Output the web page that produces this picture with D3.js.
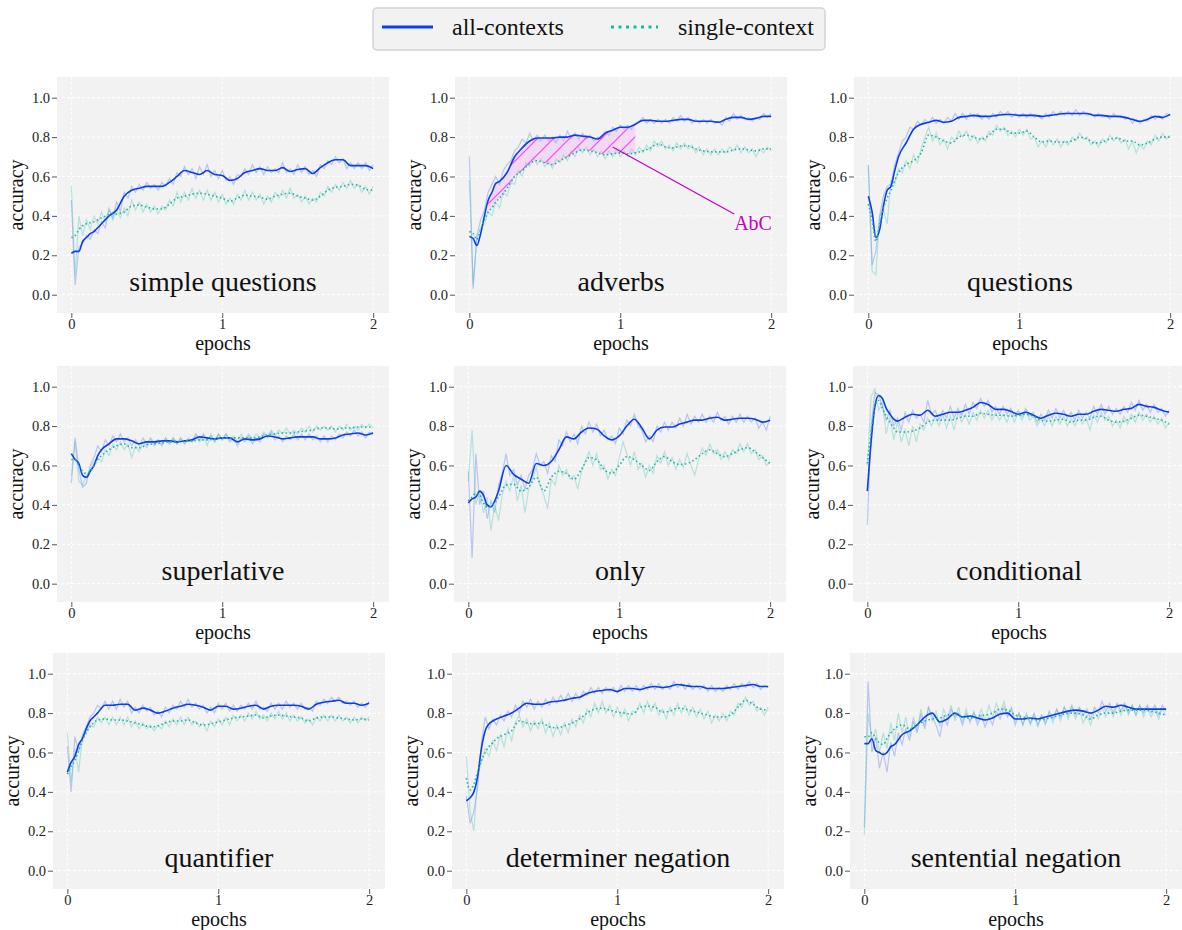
<!DOCTYPE html>
<html><head><meta charset="utf-8">
<script src="https://cdn.jsdelivr.net/npm/d3@7"></script>
<style>
body{margin:0;background:#fff}
svg{display:block}
text{font-family:"Liberation Serif","Times New Roman",serif}
</style>
</head><body><svg id="chart" width="1182" height="930"></svg>
<script>
// ---------- shared x grids (epochs) ----------
const epochsSmooth = [0,0.025,0.05,0.075,0.1,0.125,0.15,0.175,0.2,
 0.25,0.3,0.35,0.4,0.45,0.5,0.55,0.6,0.65,0.7,
 0.75,0.8,0.85,0.9,0.95,1.0,1.05,1.1,1.15,1.2,
 1.25,1.3,1.35,1.4,1.45,1.5,1.55,1.6,1.65,1.7,
 1.75,1.8,1.85,1.9,1.95,2.0];
const epochsRaw = [0,0.025,0.05,0.075,0.1,0.125,0.15,0.175,0.2,0.225,
 0.25,0.275,0.3,0.325,0.35,0.375,0.4,0.425,0.45,0.475,
 0.5,0.525,0.55,0.575,0.6,0.625,0.65,0.675,0.7,0.725,
 0.75,0.775,0.8,0.825,0.85,0.875,0.9,0.925,0.95,0.975,
 1.0,1.025,1.05,1.075,1.1,1.125,1.15,1.175,1.2,1.225,
 1.25,1.275,1.3,1.325,1.35,1.375,1.4,1.425,1.45,1.475,
 1.5,1.525,1.55,1.575,1.6,1.625,1.65,1.675,1.7,1.725,
 1.75,1.775,1.8,1.825,1.85,1.875,1.9,1.925,1.95,1.975,
 2.0];

const taskNames = ["simple questions","adverbs","questions","superlative","only","conditional","quantifier","determiner negation","sentential negation"];
const legendLabels = ["all-contexts","single-context"];
const xTicks = [0,1,2];
const yTicks = [0,0.2,0.4,0.6,0.8,1.0];
const xLabel = "epochs";
const yLabel = "accuracy";

// ---------- simple questions ----------
const sqAll = [0.21,0.22,0.22,0.27,0.29,0.31,0.32,0.34,0.36,
 0.40,0.43,0.50,0.53,0.54,0.55,0.55,0.55,0.57,0.60,
 0.63,0.62,0.61,0.63,0.61,0.605,0.58,0.59,0.62,0.63,
 0.64,0.63,0.63,0.645,0.625,0.635,0.64,0.615,0.645,0.67,
 0.685,0.685,0.655,0.655,0.655,0.64];
const sqSingle = [0.29,0.30,0.33,0.35,0.36,0.365,0.37,0.38,0.39,
 0.405,0.41,0.42,0.45,0.455,0.445,0.435,0.435,0.46,0.49,
 0.50,0.51,0.515,0.51,0.50,0.49,0.475,0.49,0.505,0.50,
 0.495,0.485,0.50,0.51,0.515,0.50,0.49,0.48,0.50,0.53,
 0.545,0.55,0.56,0.555,0.535,0.53];
const sqAllRaw = [0.48,0.05,0.24,0.26,0.30,0.28,0.33,0.31,0.37,0.34,
 0.43,0.39,0.47,0.42,0.52,0.49,0.55,0.52,0.56,0.53,
 0.57,0.54,0.56,0.53,0.57,0.55,0.59,0.56,0.62,0.60,
 0.65,0.61,0.64,0.59,0.65,0.61,0.66,0.60,0.63,0.59,
 0.63,0.58,0.60,0.56,0.61,0.60,0.64,0.61,0.66,0.62,
 0.65,0.61,0.65,0.62,0.64,0.62,0.67,0.62,0.64,0.61,
 0.66,0.62,0.65,0.61,0.63,0.60,0.66,0.64,0.68,0.66,
 0.70,0.67,0.69,0.64,0.67,0.64,0.67,0.64,0.67,0.63,
 0.66];
const sqSingleRaw = [0.55,0.10,0.40,0.30,0.38,0.33,0.40,0.36,0.42,0.37,
 0.44,0.38,0.43,0.39,0.44,0.40,0.48,0.43,0.47,0.42,
 0.46,0.42,0.45,0.41,0.45,0.43,0.48,0.45,0.52,0.47,
 0.52,0.48,0.54,0.49,0.53,0.48,0.53,0.48,0.52,0.47,
 0.51,0.46,0.49,0.46,0.51,0.48,0.53,0.48,0.52,0.48,
 0.51,0.46,0.50,0.47,0.52,0.49,0.53,0.49,0.54,0.49,
 0.51,0.47,0.50,0.46,0.49,0.47,0.52,0.50,0.55,0.52,
 0.56,0.53,0.57,0.54,0.58,0.54,0.56,0.52,0.55,0.51,
 0.55];

// ---------- adverbs ----------
const advAll = [0.295,0.285,0.25,0.31,0.40,0.48,0.52,0.565,0.575,
 0.62,0.70,0.745,0.78,0.795,0.795,0.795,0.80,0.80,0.81,
 0.805,0.80,0.79,0.82,0.835,0.85,0.85,0.865,0.885,0.885,
 0.88,0.88,0.885,0.89,0.89,0.88,0.88,0.88,0.875,0.89,
 0.90,0.90,0.89,0.895,0.905,0.905];
const advSingle = [0.32,0.31,0.28,0.33,0.38,0.42,0.44,0.47,0.49,
 0.54,0.60,0.63,0.665,0.68,0.67,0.66,0.68,0.70,0.72,
 0.735,0.73,0.72,0.71,0.715,0.72,0.715,0.72,0.73,0.745,
 0.765,0.75,0.745,0.755,0.755,0.74,0.73,0.725,0.725,0.725,
 0.735,0.74,0.735,0.73,0.74,0.74];
const advAllRaw = [0.70,0.03,0.30,0.38,0.43,0.52,0.56,0.60,0.56,0.63,
 0.66,0.68,0.73,0.75,0.79,0.77,0.82,0.78,0.81,0.78,
 0.81,0.78,0.80,0.77,0.81,0.78,0.83,0.79,0.82,0.79,
 0.82,0.79,0.81,0.78,0.80,0.79,0.83,0.81,0.85,0.83,
 0.86,0.84,0.86,0.84,0.87,0.88,0.90,0.87,0.89,0.87,
 0.89,0.87,0.89,0.87,0.90,0.88,0.91,0.88,0.90,0.87,
 0.89,0.87,0.89,0.87,0.89,0.87,0.88,0.86,0.90,0.88,
 0.92,0.89,0.91,0.89,0.90,0.88,0.90,0.89,0.92,0.90,
 0.92];
const advSingleRaw = [0.58,0.05,0.29,0.34,0.36,0.42,0.40,0.47,0.44,0.52,
 0.50,0.57,0.56,0.63,0.60,0.67,0.65,0.70,0.66,0.69,
 0.65,0.68,0.64,0.69,0.67,0.71,0.68,0.73,0.70,0.75,
 0.72,0.75,0.71,0.74,0.70,0.73,0.69,0.73,0.70,0.74,
 0.70,0.73,0.70,0.74,0.71,0.75,0.72,0.76,0.73,0.78,
 0.75,0.78,0.74,0.76,0.73,0.77,0.74,0.77,0.74,0.76,
 0.72,0.75,0.71,0.74,0.71,0.74,0.71,0.74,0.72,0.75,
 0.73,0.76,0.72,0.75,0.72,0.74,0.70,0.74,0.72,0.75,
 0.73];

// ---------- questions ----------
const qAll = [0.50,0.42,0.29,0.33,0.45,0.53,0.55,0.63,0.70,
 0.77,0.84,0.865,0.875,0.885,0.875,0.88,0.90,0.905,0.91,
 0.905,0.905,0.91,0.915,0.915,0.91,0.91,0.91,0.905,0.91,
 0.915,0.92,0.92,0.92,0.92,0.91,0.91,0.905,0.905,0.90,
 0.89,0.88,0.89,0.905,0.90,0.915];
const qSingle = [0.46,0.38,0.27,0.36,0.44,0.49,0.53,0.58,0.62,
 0.66,0.68,0.72,0.81,0.80,0.78,0.77,0.80,0.81,0.80,
 0.79,0.81,0.84,0.84,0.82,0.82,0.83,0.80,0.775,0.78,
 0.775,0.775,0.78,0.80,0.79,0.77,0.775,0.79,0.795,0.78,
 0.78,0.76,0.77,0.79,0.80,0.80];
const qAllRaw = [0.66,0.15,0.22,0.40,0.50,0.55,0.56,0.66,0.72,0.78,
 0.80,0.85,0.84,0.88,0.86,0.89,0.87,0.90,0.87,0.89,
 0.87,0.90,0.88,0.92,0.89,0.92,0.89,0.92,0.90,0.92,
 0.89,0.91,0.89,0.92,0.90,0.93,0.91,0.93,0.90,0.92,
 0.90,0.92,0.90,0.92,0.90,0.91,0.89,0.92,0.90,0.93,
 0.91,0.93,0.91,0.93,0.91,0.94,0.91,0.93,0.91,0.92,
 0.90,0.92,0.90,0.91,0.89,0.92,0.90,0.91,0.89,0.90,
 0.87,0.89,0.87,0.89,0.88,0.91,0.89,0.91,0.89,0.92,
 0.91];
const qSingleRaw = [0.65,0.12,0.10,0.40,0.43,0.36,0.58,0.56,0.64,0.62,
 0.68,0.64,0.71,0.67,0.74,0.80,0.85,0.78,0.82,0.76,
 0.79,0.74,0.80,0.78,0.83,0.80,0.83,0.78,0.81,0.77,
 0.80,0.78,0.83,0.81,0.86,0.83,0.85,0.81,0.83,0.80,
 0.84,0.81,0.84,0.79,0.80,0.75,0.78,0.75,0.79,0.76,
 0.79,0.75,0.78,0.76,0.80,0.78,0.82,0.79,0.80,0.76,
 0.78,0.75,0.79,0.77,0.81,0.78,0.80,0.77,0.79,0.74,
 0.78,0.72,0.76,0.74,0.78,0.76,0.81,0.78,0.82,0.79,
 0.81];

// ---------- superlative ----------
const supAll = [0.66,0.63,0.61,0.55,0.54,0.57,0.60,0.65,0.68,
 0.71,0.735,0.735,0.725,0.71,0.72,0.72,0.725,0.725,0.72,
 0.725,0.73,0.745,0.74,0.735,0.74,0.74,0.72,0.735,0.73,
 0.735,0.75,0.745,0.735,0.74,0.745,0.745,0.745,0.735,0.735,
 0.74,0.755,0.76,0.765,0.755,0.765];
const supSingle = [0.63,0.63,0.60,0.57,0.56,0.57,0.60,0.63,0.65,
 0.68,0.70,0.71,0.69,0.69,0.705,0.71,0.715,0.72,0.72,
 0.725,0.725,0.73,0.73,0.735,0.74,0.74,0.74,0.74,0.74,
 0.745,0.755,0.76,0.765,0.765,0.77,0.775,0.78,0.79,0.79,
 0.785,0.79,0.79,0.795,0.795,0.795];
const supAllRaw = [0.51,0.74,0.58,0.49,0.51,0.60,0.64,0.70,0.67,0.73,
 0.70,0.75,0.72,0.76,0.72,0.74,0.70,0.73,0.70,0.74,
 0.71,0.74,0.71,0.73,0.70,0.74,0.71,0.74,0.71,0.74,
 0.71,0.73,0.72,0.76,0.73,0.76,0.73,0.75,0.72,0.76,
 0.73,0.76,0.72,0.74,0.70,0.74,0.72,0.75,0.71,0.74,
 0.72,0.76,0.74,0.77,0.73,0.75,0.72,0.75,0.73,0.76,
 0.73,0.76,0.73,0.76,0.73,0.75,0.72,0.75,0.72,0.75,
 0.73,0.76,0.74,0.77,0.75,0.78,0.75,0.77,0.74,0.77,
 0.76];
const supSingleRaw = [0.55,0.72,0.52,0.50,0.55,0.58,0.62,0.64,0.62,0.68,
 0.65,0.71,0.68,0.72,0.68,0.71,0.64,0.70,0.67,0.72,
 0.69,0.73,0.70,0.73,0.71,0.74,0.71,0.74,0.71,0.74,
 0.71,0.74,0.72,0.75,0.72,0.75,0.70,0.76,0.72,0.76,
 0.73,0.76,0.73,0.75,0.72,0.76,0.73,0.76,0.73,0.76,
 0.74,0.77,0.75,0.78,0.75,0.78,0.76,0.79,0.76,0.78,
 0.76,0.79,0.77,0.80,0.77,0.80,0.78,0.80,0.78,0.80,
 0.77,0.80,0.78,0.81,0.78,0.80,0.78,0.81,0.79,0.81,
 0.79];

// ---------- only ----------
const onlyAll = [0.41,0.43,0.44,0.47,0.45,0.40,0.39,0.42,0.47,
 0.60,0.555,0.53,0.51,0.61,0.60,0.62,0.68,0.745,0.735,
 0.77,0.79,0.785,0.75,0.73,0.75,0.80,0.835,0.79,0.735,
 0.78,0.795,0.795,0.81,0.82,0.83,0.83,0.84,0.845,0.83,
 0.835,0.84,0.84,0.835,0.82,0.83];
const onlySingle = [0.42,0.44,0.46,0.45,0.41,0.39,0.39,0.41,0.44,
 0.50,0.505,0.47,0.49,0.54,0.47,0.54,0.57,0.56,0.53,
 0.58,0.64,0.63,0.58,0.56,0.60,0.645,0.63,0.60,0.575,
 0.62,0.645,0.62,0.605,0.61,0.63,0.66,0.68,0.66,0.645,
 0.66,0.68,0.69,0.67,0.64,0.61];
const onlyAllRaw = [0.57,0.13,0.66,0.40,0.47,0.33,0.42,0.36,0.50,0.56,
 0.66,0.55,0.58,0.50,0.55,0.48,0.55,0.58,0.66,0.60,
 0.62,0.56,0.65,0.62,0.73,0.70,0.77,0.72,0.76,0.71,
 0.80,0.76,0.82,0.77,0.81,0.75,0.78,0.73,0.75,0.71,
 0.79,0.76,0.83,0.80,0.86,0.80,0.78,0.72,0.75,0.72,
 0.80,0.77,0.82,0.78,0.82,0.79,0.84,0.80,0.86,0.81,
 0.85,0.82,0.86,0.82,0.85,0.82,0.87,0.83,0.85,0.81,
 0.85,0.82,0.86,0.82,0.85,0.82,0.84,0.79,0.82,0.78,
 0.85];
const onlySingleRaw = [0.52,0.78,0.40,0.47,0.36,0.44,0.27,0.40,0.32,0.45,
 0.52,0.47,0.55,0.42,0.50,0.36,0.48,0.53,0.59,0.50,
 0.45,0.38,0.53,0.50,0.60,0.55,0.58,0.53,0.55,0.48,
 0.57,0.62,0.67,0.60,0.66,0.58,0.60,0.53,0.58,0.55,
 0.64,0.72,0.66,0.60,0.67,0.58,0.61,0.54,0.60,0.56,
 0.65,0.61,0.67,0.60,0.64,0.58,0.63,0.59,0.66,0.60,
 0.55,0.63,0.69,0.65,0.71,0.66,0.68,0.63,0.67,0.63,
 0.68,0.66,0.71,0.67,0.71,0.66,0.68,0.63,0.65,0.60,
 0.62];

// ---------- conditional ----------
const condAll = [0.47,0.72,0.90,0.955,0.94,0.89,0.86,0.835,0.825,
 0.845,0.86,0.855,0.88,0.85,0.86,0.87,0.87,0.88,0.895,
 0.92,0.91,0.885,0.885,0.875,0.86,0.87,0.855,0.84,0.855,
 0.865,0.86,0.85,0.86,0.86,0.875,0.885,0.88,0.875,0.885,
 0.89,0.91,0.90,0.895,0.88,0.87];
const condSingle = [0.61,0.77,0.90,0.93,0.89,0.85,0.82,0.79,0.77,
 0.77,0.775,0.79,0.82,0.83,0.83,0.83,0.84,0.85,0.85,
 0.865,0.86,0.855,0.855,0.85,0.855,0.86,0.85,0.83,0.825,
 0.83,0.835,0.82,0.83,0.83,0.845,0.85,0.83,0.82,0.825,
 0.84,0.855,0.85,0.84,0.83,0.81];
const condAllRaw = [0.30,0.80,0.97,0.96,0.90,0.83,0.88,0.80,0.84,0.78,
 0.87,0.82,0.88,0.84,0.86,0.82,0.93,0.86,0.88,0.83,
 0.88,0.84,0.90,0.84,0.89,0.85,0.91,0.86,0.92,0.89,
 0.94,0.90,0.93,0.87,0.90,0.86,0.90,0.86,0.89,0.85,
 0.88,0.85,0.89,0.85,0.87,0.82,0.86,0.83,0.88,0.84,
 0.89,0.84,0.88,0.84,0.87,0.83,0.88,0.84,0.87,0.84,
 0.90,0.86,0.91,0.86,0.90,0.86,0.89,0.86,0.90,0.87,
 0.92,0.88,0.93,0.88,0.91,0.87,0.91,0.87,0.89,0.85,
 0.88];
const condSingleRaw = [0.60,0.95,0.99,0.88,0.92,0.76,0.85,0.73,0.82,0.72,
 0.78,0.70,0.80,0.72,0.81,0.78,0.84,0.80,0.85,0.80,
 0.86,0.79,0.85,0.78,0.87,0.82,0.86,0.81,0.87,0.83,
 0.88,0.84,0.88,0.83,0.87,0.83,0.86,0.82,0.87,0.82,
 0.87,0.83,0.88,0.83,0.85,0.80,0.84,0.80,0.85,0.80,
 0.85,0.81,0.85,0.80,0.84,0.80,0.85,0.81,0.84,0.78,
 0.86,0.82,0.87,0.83,0.85,0.80,0.83,0.79,0.85,0.81,
 0.86,0.82,0.87,0.83,0.86,0.82,0.85,0.81,0.84,0.79,
 0.82];

// ---------- quantifier ----------
const quantAll = [0.50,0.55,0.58,0.64,0.67,0.72,0.76,0.78,0.80,
 0.84,0.84,0.845,0.845,0.815,0.825,0.815,0.80,0.81,0.825,
 0.835,0.845,0.84,0.83,0.815,0.835,0.835,0.82,0.825,0.835,
 0.84,0.82,0.835,0.84,0.84,0.84,0.835,0.82,0.845,0.855,
 0.86,0.865,0.85,0.85,0.84,0.85];
const quantSingle = [0.49,0.53,0.56,0.61,0.66,0.70,0.73,0.75,0.765,
 0.77,0.765,0.765,0.76,0.75,0.74,0.73,0.735,0.75,0.76,
 0.76,0.765,0.75,0.74,0.745,0.755,0.765,0.775,0.78,0.785,
 0.79,0.775,0.785,0.79,0.785,0.78,0.775,0.76,0.775,0.78,
 0.78,0.775,0.77,0.765,0.77,0.765];
const quantAllRaw = [0.63,0.40,0.68,0.60,0.69,0.73,0.78,0.80,0.84,0.82,
 0.86,0.82,0.86,0.82,0.87,0.83,0.86,0.80,0.83,0.80,
 0.84,0.81,0.83,0.79,0.81,0.78,0.83,0.80,0.84,0.82,
 0.86,0.83,0.87,0.83,0.85,0.82,0.84,0.80,0.83,0.80,
 0.85,0.82,0.85,0.81,0.84,0.81,0.84,0.82,0.85,0.82,
 0.86,0.82,0.83,0.81,0.85,0.82,0.85,0.82,0.86,0.83,
 0.85,0.82,0.85,0.82,0.83,0.81,0.86,0.84,0.87,0.85,
 0.88,0.86,0.88,0.85,0.86,0.84,0.86,0.83,0.85,0.83,
 0.86];
const quantSingleRaw = [0.70,0.45,0.62,0.50,0.68,0.70,0.74,0.73,0.78,0.75,
 0.78,0.74,0.78,0.74,0.78,0.74,0.78,0.73,0.76,0.72,
 0.75,0.72,0.74,0.71,0.74,0.72,0.76,0.73,0.77,0.74,
 0.78,0.74,0.78,0.74,0.76,0.73,0.75,0.71,0.76,0.73,
 0.77,0.74,0.78,0.74,0.79,0.76,0.79,0.76,0.80,0.77,
 0.81,0.77,0.79,0.76,0.80,0.77,0.81,0.77,0.80,0.76,
 0.79,0.76,0.78,0.75,0.77,0.74,0.78,0.76,0.79,0.76,
 0.79,0.76,0.79,0.76,0.78,0.75,0.78,0.75,0.78,0.76,
 0.78];

// ---------- determiner negation ----------
const detAll = [0.355,0.37,0.40,0.48,0.62,0.71,0.745,0.76,0.77,
 0.785,0.80,0.825,0.85,0.845,0.845,0.855,0.86,0.865,0.875,
 0.88,0.90,0.91,0.915,0.92,0.91,0.925,0.925,0.92,0.93,
 0.935,0.93,0.935,0.945,0.94,0.935,0.935,0.925,0.925,0.925,
 0.93,0.935,0.94,0.945,0.935,0.935];
const detSingle = [0.47,0.41,0.44,0.50,0.56,0.60,0.63,0.65,0.67,
 0.69,0.71,0.76,0.75,0.745,0.75,0.73,0.725,0.735,0.75,
 0.77,0.80,0.82,0.825,0.815,0.805,0.80,0.795,0.83,0.835,
 0.83,0.805,0.81,0.825,0.82,0.81,0.80,0.79,0.78,0.78,
 0.79,0.83,0.865,0.845,0.82,0.815];
const detAllRaw = [0.38,0.24,0.30,0.42,0.65,0.78,0.72,0.77,0.74,0.79,
 0.76,0.81,0.78,0.84,0.80,0.86,0.83,0.87,0.82,0.86,
 0.83,0.87,0.84,0.88,0.85,0.89,0.86,0.90,0.86,0.90,
 0.87,0.91,0.89,0.93,0.90,0.93,0.90,0.93,0.91,0.93,
 0.90,0.94,0.91,0.94,0.91,0.94,0.91,0.94,0.92,0.95,
 0.92,0.95,0.92,0.94,0.92,0.96,0.93,0.95,0.92,0.95,
 0.92,0.94,0.92,0.94,0.91,0.94,0.91,0.93,0.91,0.94,
 0.92,0.95,0.92,0.95,0.93,0.96,0.93,0.95,0.92,0.94,
 0.93];
const detSingleRaw = [0.58,0.30,0.20,0.48,0.55,0.62,0.58,0.66,0.61,0.69,
 0.63,0.72,0.66,0.75,0.79,0.73,0.77,0.71,0.76,0.72,
 0.77,0.70,0.75,0.68,0.74,0.69,0.75,0.70,0.77,0.73,
 0.79,0.75,0.82,0.78,0.85,0.80,0.86,0.80,0.84,0.78,
 0.83,0.78,0.82,0.76,0.81,0.80,0.85,0.80,0.86,0.81,
 0.85,0.79,0.82,0.77,0.83,0.79,0.85,0.80,0.84,0.79,
 0.83,0.78,0.82,0.77,0.81,0.75,0.79,0.76,0.80,0.76,
 0.81,0.79,0.85,0.83,0.88,0.84,0.86,0.81,0.83,0.79,
 0.83];

// ---------- sentential negation ----------
const sentAll = [0.645,0.645,0.67,0.61,0.60,0.59,0.60,0.63,0.64,
 0.69,0.71,0.74,0.78,0.80,0.755,0.77,0.80,0.78,0.785,
 0.775,0.765,0.775,0.795,0.80,0.77,0.77,0.775,0.77,0.78,
 0.79,0.80,0.81,0.815,0.81,0.80,0.815,0.835,0.83,0.84,
 0.83,0.82,0.82,0.82,0.82,0.82];
const sentSingle = [0.68,0.68,0.70,0.67,0.65,0.64,0.67,0.70,0.72,
 0.74,0.72,0.74,0.76,0.77,0.775,0.79,0.795,0.78,0.775,
 0.785,0.79,0.80,0.82,0.815,0.79,0.78,0.77,0.765,0.77,
 0.78,0.79,0.80,0.80,0.79,0.77,0.79,0.80,0.80,0.81,
 0.815,0.815,0.815,0.81,0.80,0.79];
const sentAllRaw = [0.22,0.96,0.60,0.68,0.52,0.60,0.50,0.65,0.58,0.70,
 0.64,0.72,0.66,0.76,0.70,0.80,0.72,0.83,0.78,0.74,
 0.68,0.78,0.74,0.82,0.78,0.80,0.74,0.80,0.76,0.80,
 0.74,0.79,0.73,0.78,0.74,0.81,0.77,0.83,0.78,0.82,
 0.74,0.80,0.74,0.79,0.75,0.80,0.74,0.79,0.75,0.81,
 0.77,0.82,0.78,0.83,0.79,0.84,0.79,0.83,0.79,0.82,
 0.77,0.83,0.80,0.86,0.81,0.85,0.80,0.85,0.81,0.85,
 0.80,0.84,0.79,0.84,0.80,0.84,0.80,0.84,0.79,0.84,
 0.81];
const sentSingleRaw = [0.18,0.80,0.66,0.72,0.60,0.70,0.62,0.75,0.66,0.80,
 0.70,0.78,0.68,0.78,0.71,0.82,0.74,0.83,0.76,0.81,
 0.73,0.82,0.77,0.84,0.76,0.83,0.75,0.82,0.75,0.81,
 0.76,0.82,0.76,0.84,0.78,0.85,0.80,0.86,0.79,0.83,
 0.76,0.80,0.74,0.80,0.74,0.79,0.73,0.79,0.74,0.80,
 0.75,0.82,0.76,0.83,0.77,0.83,0.77,0.82,0.75,0.79,
 0.74,0.81,0.77,0.83,0.78,0.83,0.78,0.84,0.79,0.84,
 0.79,0.84,0.79,0.84,0.78,0.83,0.78,0.82,0.77,0.82,
 0.79];

// annotation (adverbs panel), in data units
const shadeRange = [0.12, 1.1];
const annotFrom = [0.95, 0.75];
const annotTo = [1.755, 0.41];
const annotText = "AbC";
const annotTextPos = [1.755, 0.33];

// ---------- build ----------
const panels = [
  {name: taskNames[0], all: sqAll, single: sqSingle, allRaw: sqAllRaw, singleRaw: sqSingleRaw},
  {name: taskNames[1], all: advAll, single: advSingle, allRaw: advAllRaw, singleRaw: advSingleRaw, annot: true},
  {name: taskNames[2], all: qAll, single: qSingle, allRaw: qAllRaw, singleRaw: qSingleRaw},
  {name: taskNames[3], all: supAll, single: supSingle, allRaw: supAllRaw, singleRaw: supSingleRaw},
  {name: taskNames[4], all: onlyAll, single: onlySingle, allRaw: onlyAllRaw, singleRaw: onlySingleRaw},
  {name: taskNames[5], all: condAll, single: condSingle, allRaw: condAllRaw, singleRaw: condSingleRaw},
  {name: taskNames[6], all: quantAll, single: quantSingle, allRaw: quantAllRaw, singleRaw: quantSingleRaw},
  {name: taskNames[7], all: detAll, single: detSingle, allRaw: detAllRaw, singleRaw: detSingleRaw},
  {name: taskNames[8], all: sentAll, single: sentSingle, allRaw: sentAllRaw, singleRaw: sentSingleRaw}
];

const BLUE = "#0b3fe6", TEAL = "#1db3a3";
const BLUE_RAW = "#3f63ee", TEAL_RAW = "#45c4b4";
const colLefts = [[57,455,854],[57,454,853],[53,452,850]];
const rowTops = [77,366,653];
const W = 332, H = 236;

const svg = d3.select("#chart");
const defs = svg.append("defs");
const pat = defs.append("pattern").attr("id","hatch").attr("patternUnits","userSpaceOnUse")
  .attr("width",16).attr("height",16);
pat.append("path").attr("d","M0,16 L16,0 M-8,8 L8,-8 M8,24 L24,8")
  .attr("stroke","#ff3cff").attr("stroke-width",1.1);

const x = d3.scaleLinear().domain([-0.095, 2.105]).range([0, W]);
const y = d3.scaleLinear().domain([-0.093, 1.105]).range([H, 0]);

function series(xs, ys){ return ys.map((v,i)=>[xs[i], v]).filter(d=>d[0]!==undefined); }
const lineS = d3.line().x(d=>x(d[0])).y(d=>y(d[1])).curve(d3.curveMonotoneX);
const lineR = d3.line().x(d=>x(d[0])).y(d=>y(d[1]));

panels.forEach((p, i) => {
  const r = Math.floor(i/3), c = i%3;
  const g = svg.append("g").attr("transform", `translate(${colLefts[r][c]},${rowTops[r]})`);
  g.append("rect").attr("width", W).attr("height", H).attr("fill", "#f2f2f2");
  const cid = "clip"+i;
  defs.append("clipPath").attr("id", cid).append("rect").attr("width", W).attr("height", H);

  // grid
  g.append("g").selectAll("line").data(yTicks).join("line")
    .attr("x1",0).attr("x2",W).attr("y1",d=>y(d)).attr("y2",d=>y(d))
    .attr("stroke","#fff").attr("stroke-width",1).attr("stroke-dasharray","3,2");
  g.append("g").selectAll("line").data(xTicks).join("line")
    .attr("y1",0).attr("y2",H).attr("x1",d=>x(d)).attr("x2",d=>x(d))
    .attr("stroke","#fff").attr("stroke-width",1).attr("stroke-dasharray","3,2");

  // axes
  const ya = g.append("g").call(d3.axisLeft(y).tickValues(yTicks).tickFormat(d3.format(".1f")).tickSize(5).tickPadding(2));
  const xa = g.append("g").attr("transform",`translate(0,${H})`)
    .call(d3.axisBottom(x).tickValues(xTicks).tickFormat(d3.format("d")).tickSize(5).tickPadding(1));
  [ya, xa].forEach(a => {
    a.select(".domain").remove();
    a.selectAll(".tick line").attr("stroke","#444").attr("stroke-width",0.9);
    a.selectAll(".tick text").attr("font-family","'Liberation Serif','Times New Roman',serif")
      .attr("font-size",14.5).attr("fill","#222");
  });

  const plot = g.append("g").attr("clip-path", `url(#${cid})`);
  plot.append("path").attr("d", lineR(series(epochsRaw, p.allRaw)))
    .attr("fill","none").attr("stroke",BLUE_RAW).attr("stroke-width",1.2).attr("stroke-opacity",0.32);
  plot.append("path").attr("d", lineR(series(epochsRaw, p.singleRaw)))
    .attr("fill","none").attr("stroke",TEAL_RAW).attr("stroke-width",1.2).attr("stroke-opacity",0.35);

  if (p.annot) {
    const idx = epochsSmooth.map((e,k)=>k).filter(k=>epochsSmooth[k]>=shadeRange[0] && epochsSmooth[k]<=shadeRange[1]);
    const pts = idx.map(k=>({e:epochsSmooth[k], lo:p.single[k], hi:p.all[k]}));
    const area = d3.area().x(d=>x(d.e)).y0(d=>y(d.lo)).y1(d=>y(d.hi)).curve(d3.curveMonotoneX);
    plot.append("path").attr("d", area(pts)).attr("fill","#ee9ff2").attr("fill-opacity",0.28);
    plot.append("path").attr("d", area(pts)).attr("fill","url(#hatch)");
  }

  plot.append("path").attr("d", lineS(series(epochsSmooth, p.all)))
    .attr("fill","none").attr("stroke",BLUE).attr("stroke-width",1.6);
  plot.append("path").attr("d", lineS(series(epochsSmooth, p.single)))
    .attr("fill","none").attr("stroke",TEAL).attr("stroke-width",1.6).attr("stroke-dasharray","1.5,2.5");

  if (p.annot) {
    g.append("line").attr("x1",x(annotFrom[0])).attr("y1",y(annotFrom[1]))
      .attr("x2",x(annotTo[0])).attr("y2",y(annotTo[1]))
      .attr("stroke","#c000c0").attr("stroke-width",1.2);
    g.append("text").attr("x",x(annotTextPos[0])).attr("y",y(annotTextPos[1]))
      .attr("font-size",20).attr("fill","#c400c4").text(annotText);
  }

  // title inside
  g.append("text").attr("x", W/2).attr("y", 214).attr("text-anchor","middle")
    .attr("font-size",28).attr("fill","#111").text(p.name);
  // axis labels
  g.append("text").attr("x", W/2).attr("y", H+37).attr("text-anchor","middle")
    .attr("font-size",20).attr("fill","#111").text(xLabel);
  g.append("text").attr("transform", `translate(-34,${H/2}) rotate(-90)`).attr("text-anchor","middle")
    .attr("font-size",20).attr("fill","#111").text(yLabel);
});

// legend
const lg = svg.append("g");
lg.append("rect").attr("x",373).attr("y",8).attr("width",452).attr("height",42).attr("rx",4)
  .attr("fill","#f2f2f2").attr("stroke","#d3d3d3").attr("stroke-width",1.5);
lg.append("line").attr("x1",382).attr("x2",433).attr("y1",27).attr("y2",27)
  .attr("stroke",BLUE).attr("stroke-width",3);
lg.append("text").attr("x",452).attr("y",35).attr("font-size",24).attr("fill","#111").text(legendLabels[0]);
lg.append("line").attr("x1",611).attr("x2",658).attr("y1",27).attr("y2",27)
  .attr("stroke",TEAL).attr("stroke-width",3).attr("stroke-dasharray","3,4.5");
lg.append("text").attr("x",678).attr("y",35).attr("font-size",24).attr("fill","#111").text(legendLabels[1]);
</script>
</body></html>
